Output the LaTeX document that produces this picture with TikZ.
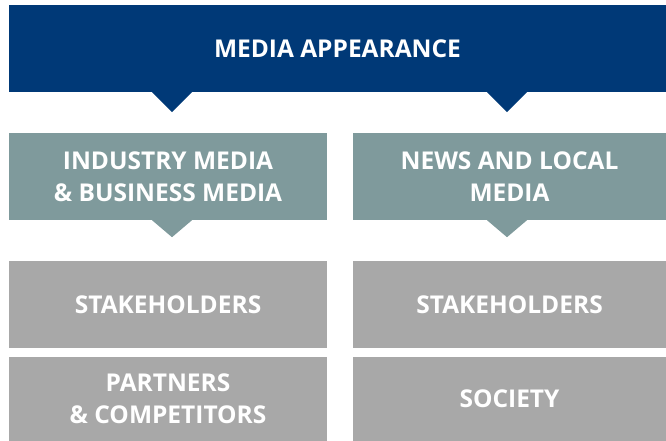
\documentclass[tikz,border=0pt]{standalone}
\usepackage{fontspec}
\setmainfont{Open Sans}
\definecolor{mediablue}{RGB}{0,57,119}
\definecolor{mediateal}{RGB}{127,154,156}
\definecolor{mediagrey}{RGB}{168,168,168}
\usetikzlibrary{positioning}

\tikzset{
  box/.style={inner sep=0pt, align=center, text=white, font=\bfseries\fontsize{24.5}{32}\selectfont},
  headbox/.style={box, fill=mediablue, minimum width=657pt, minimum height=87pt},
  mediabox/.style={box, fill=mediateal, minimum height=87pt},
  groupbox/.style={box, fill=mediagrey},
}

\begin{document}
\begin{tikzpicture}[x=1pt, y=-1pt]
    \useasboundingbox (0,0) rectangle (666,441);
    % top banner
    \node[headbox] (head) at (337.5,48.5) {\raisebox{-1.5pt}{MEDIA APPEARANCE}};
    % media types
    \node[mediabox, minimum width=318pt] (industry) at (168,176.5) {INDUSTRY MEDIA\\\& BUSINESS MEDIA};
    \node[mediabox, minimum width=313pt] (news) at (509.5,176.5) {NEWS AND LOCAL\\MEDIA};
    % audiences
    \node[groupbox, minimum width=318pt, minimum height=87pt] (stakeL) at (168,304.5) {STAKEHOLDERS};
    \node[groupbox, minimum width=313pt, minimum height=87pt] (stakeR) at (509.5,304.5) {STAKEHOLDERS};
    \node[groupbox, minimum width=318pt, minimum height=84pt] (partners) at (168,399) {PARTNERS\\\& COMPETITORS};
    \node[groupbox, minimum width=313pt, minimum height=84pt] (society) at (509.5,399) {SOCIETY};
    % pointers
    \fill[mediablue] (head.south -| industry.center) ++(-16,0) -- ++(20,20) -- ++(20,-20) -- cycle;
    \fill[mediablue] (head.south -| news.center) ++(-22.5,0) -- ++(20,20) -- ++(20,-20) -- cycle;
    \fill[mediateal] (industry.south) ++(-16,0) -- ++(20,17) -- ++(20,-17) -- cycle;
    \fill[mediateal] (news.south) ++(-22.5,0) -- ++(20,17) -- ++(20,-17) -- cycle;
\end{tikzpicture}
\end{document}
